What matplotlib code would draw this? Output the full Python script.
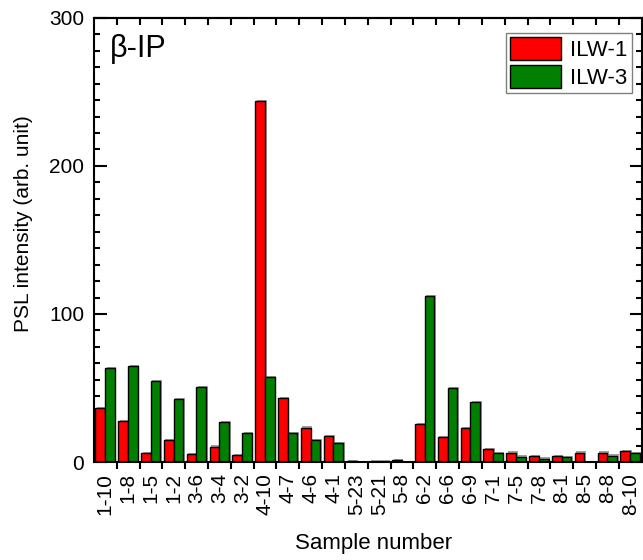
import numpy as np
import matplotlib.pyplot as plt
from matplotlib.ticker import MultipleLocator, FixedLocator

plt.rcParams['font.family'] = ['Liberation Sans', 'DejaVu Sans']

# ===== data =====
samples = ["1-10", "1-8", "1-5", "1-2", "3-6", "3-4", "3-2", "4-10", "4-7", "4-6",
           "4-1", "5-23", "5-21", "5-8", "6-2", "6-6", "6-9", "7-1", "7-5", "7-8",
           "8-1", "8-5", "8-8", "8-10"]
ilw1 = [36.3, 27.5, 5.9, 14.9, 5.4, 10.4, 4.5, 244, 43, 23.2,
        17.6, 0.8, 0.3, 1.2, 25.7, 17.1, 23, 8.6, 6.3, 3.8,
        3.8, 6.3, 6.3, 7.4]
ilw3 = [63.3, 65, 54.5, 42.4, 50.5, 27, 19.8, 57.4, 19.4, 14.7,
        12.6, 0.2, 0.3, 0, 112.2, 50.2, 40.5, 5.9, 3.6, 2.3,
        3.4, 0, 4.3, 5.9]

x = np.arange(len(samples))
w = 0.425

fig = plt.figure(figsize=(6.43, 5.6), dpi=100)
ax = fig.add_axes([0.146, 0.175, 0.852, 0.793])

# shadow
ax.bar(x + 0.28 + 0.07, np.array(ilw1) + 0.8, w, color='#a0a0a0', zorder=1)
ax.bar(x + 0.705 + 0.07, np.array(ilw3) + 0.8, w, color='#a0a0a0', zorder=1)
ax.bar(x + 0.28, ilw1, w, color='#ff0000', edgecolor='black', linewidth=1.0,
       label='ILW-1', zorder=2)
ax.bar(x + 0.705, ilw3, w, color='#007f00', edgecolor='black', linewidth=1.0,
       label='ILW-3', zorder=2)

ax.set_xlim(0, len(samples))
ax.set_ylim(0, 300)

ax.xaxis.set_major_locator(FixedLocator(x + 0.5))
ax.set_xticklabels(samples, rotation=90, fontsize=15)
ax.xaxis.set_minor_locator(FixedLocator(np.arange(1, len(samples))))
ax.tick_params(axis='x', which='major', length=0, pad=8)
ax.tick_params(axis='x', which='minor', direction='out', length=5, width=1.5)

ax.yaxis.set_major_locator(MultipleLocator(100))
ax.yaxis.set_minor_locator(MultipleLocator(100 / 9))
ax.tick_params(axis='y', which='major', direction='in', length=9, width=1.5,
               labelsize=15, right=True, pad=7)
ax.tick_params(axis='y', which='minor', direction='in', length=4, width=1.5,
               right=True)

# top ticks inward
sec = ax.secondary_xaxis('top')
sec.set_xticks(np.arange(1, len(samples)))
sec.set_xticklabels([])
sec.tick_params(direction='in', length=5, width=1.5)

for s in ax.spines.values():
    s.set_linewidth(1.5)
sec.spines['top'].set_linewidth(1.5)

ax.set_xlabel("Sample number", fontsize=16)
ax.xaxis.set_label_coords(0.51, -0.161)
ax.set_ylabel("PSL intensity (arb. unit)", fontsize=15)
ax.yaxis.set_label_coords(-0.112, 0.536)

ax.text(0.03, 0.93, "β-IP", transform=ax.transAxes, fontsize=22,
        ha='left', va='center')

leg = ax.legend(loc='upper right', bbox_to_anchor=(0.982, 0.966), fontsize=16,
                handlelength=2.3, handleheight=1.15, handletextpad=0.4,
                borderpad=0.2, labelspacing=0.2, borderaxespad=0,
                fancybox=False, framealpha=1)
leg.get_frame().set_edgecolor('#808080')
leg.get_frame().set_linewidth(1.0)
for h in leg.legend_handles:
    h.set_edgecolor('black')

fig.savefig("out.png", dpi=100)
